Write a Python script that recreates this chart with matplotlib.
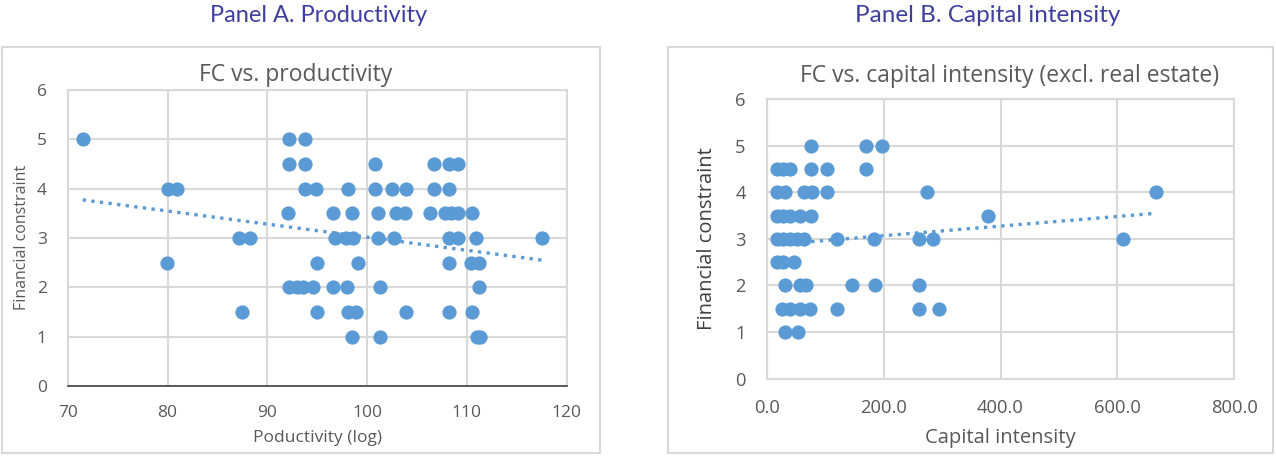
import matplotlib.pyplot as plt
import matplotlib.patches as patches
import numpy as np

# Panel A: financial constraint vs productivity (log)
prod_x = [71.5, 92.2, 93.8,
          92.2, 93.8, 100.8, 106.7, 108.2, 109.1,
          80.0, 81.0, 93.8, 94.9, 98.1, 100.8, 102.5, 103.9, 106.7, 108.2,
          92.1, 96.6, 98.5, 101.1, 102.9, 103.8, 106.3, 107.8, 108.4, 109.1, 110.5,
          87.2, 88.3, 96.8, 97.9, 98.6, 101.1, 102.7, 108.2, 109.1, 110.9, 117.5,
          79.9, 95.0, 99.1, 108.2, 110.4, 111.2,
          92.2, 93.0, 93.6, 94.6, 96.6, 98.0, 101.3, 111.2,
          87.5, 95.0, 98.1, 98.9, 103.9, 108.2, 110.5,
          98.5, 101.3, 111.0, 111.3]
prod_y = [5, 5, 5,
          4.5, 4.5, 4.5, 4.5, 4.5, 4.5,
          4, 4, 4, 4, 4, 4, 4, 4, 4, 4,
          3.5, 3.5, 3.5, 3.5, 3.5, 3.5, 3.5, 3.5, 3.5, 3.5, 3.5,
          3, 3, 3, 3, 3, 3, 3, 3, 3, 3, 3,
          2.5, 2.5, 2.5, 2.5, 2.5, 2.5,
          2, 2, 2, 2, 2, 2, 2, 2,
          1.5, 1.5, 1.5, 1.5, 1.5, 1.5, 1.5,
          1, 1, 1, 1]
# trendline end points
prod_trend_x = [71.5, 117.5]
prod_trend_y = [3.77, 2.55]

# Panel B: financial constraint vs capital intensity
cap_x = [75, 170, 198,
         17, 28, 40, 75, 103, 170,
         17, 31, 63, 77, 103, 274, 666,
         17, 28, 40, 57, 75, 378,
         17, 28, 40, 51, 63, 120, 184, 261, 284, 610,
         17, 28, 46,
         32, 57, 68, 146, 185, 261,
         26, 40, 57, 74, 120, 261, 294,
         31, 54]
cap_y = [5, 5, 5,
         4.5, 4.5, 4.5, 4.5, 4.5, 4.5,
         4, 4, 4, 4, 4, 4, 4,
         3.5, 3.5, 3.5, 3.5, 3.5, 3.5,
         3, 3, 3, 3, 3, 3, 3, 3, 3, 3,
         2.5, 2.5, 2.5,
         2, 2, 2, 2, 2, 2,
         1.5, 1.5, 1.5, 1.5, 1.5, 1.5, 1.5,
         1, 1]
cap_trend_x = [17, 666]
cap_trend_y = [2.88, 3.55]

blue = '#5B9BD5'
grid_c = '#D9D9D9'
tick_c = '#595959'
title_c = '#3F3FA0'

W, H = 1276, 457


def style(ax, dark_bottom):
	ax.grid(True, color=grid_c, lw=1.5, zorder=0)
	ax.set_axisbelow(True)
	for s in ax.spines.values():
		s.set_color(grid_c)
		s.set_linewidth(1.5)
	if dark_bottom:
		ax.spines['bottom'].set_color('#404040')
		ax.spines['bottom'].set_linewidth(1.2)
	ax.tick_params(length=0, colors=tick_c)


fig = plt.figure(figsize=(W / 100, H / 100), dpi=100)
plt.rcParams['font.family'] = ['Open Sans', 'DejaVu Sans']

# chart area borders
fig.patches.append(patches.Rectangle((2 / W, 4 / H), 598 / W, 406 / H, transform=fig.transFigure,
                                     fill=False, edgecolor=grid_c, lw=1.5))
fig.patches.append(patches.Rectangle((668 / W, 4 / H), 605 / W, 406 / H, transform=fig.transFigure,
                                     fill=False, edgecolor=grid_c, lw=1.5))

fig.text(319 / W, 1 - 15 / H, 'Panel A. Productivity', ha='center', va='center', fontsize=17,
         color=title_c, family=['Lato', 'DejaVu Sans'])
fig.text(988 / W, 1 - 15 / H, 'Panel B. Capital intensity', ha='center', va='center', fontsize=17.5,
         color=title_c, family=['Lato', 'DejaVu Sans'])

# Panel A
ax1 = fig.add_axes([67.7 / W, 1 - 386 / H, 499 / W, 296.2 / H])
style(ax1, True)
ax1.scatter(prod_x, prod_y, s=105, color=blue, zorder=3, linewidths=0)
ax1.plot(prod_trend_x, prod_trend_y, linestyle=(0, (1, 1.6)), color=blue, lw=2.4, zorder=2)
ax1.set_xlim(70, 120)
ax1.set_ylim(0, 6)
ax1.set_xticks([70, 80, 90, 100, 110, 120])
ax1.set_yticks([0, 1, 2, 3, 4, 5, 6])
ax1.tick_params(axis='x', labelsize=12.5, pad=14)
ax1.tick_params(axis='y', labelsize=12.5, pad=15)
fig.text(295.5 / W, 1 - 75 / H, 'FC vs. productivity', ha='center', va='center', fontsize=16.5, color=tick_c)
ax1.set_xlabel('Poductivity (log)', fontsize=12.5, color=tick_c, labelpad=6)
ax1.set_ylabel('Financial constraint', fontsize=11.5, color=tick_c, labelpad=5)

# Panel B
ax2 = fig.add_axes([766.7 / W, 1 - 378.5 / H, 467.6 / W, 279.2 / H])
style(ax2, False)
ax2.scatter(cap_x, cap_y, s=105, color=blue, zorder=3, linewidths=0)
ax2.plot(cap_trend_x, cap_trend_y, linestyle=(0, (1, 1.6)), color=blue, lw=2.4, zorder=2)
ax2.set_xlim(0, 800)
ax2.set_ylim(0, 6)
ax2.set_xticks([0, 200, 400, 600, 800])
ax2.set_xticklabels(['0.0', '200.0', '400.0', '600.0', '800.0'])
ax2.set_yticks([0, 1, 2, 3, 4, 5, 6])
ax2.tick_params(axis='x', labelsize=13.2, pad=15)
ax2.tick_params(axis='y', labelsize=13.2, pad=15)
fig.text(1010 / W, 1 - 76 / H, 'FC vs. capital intensity (excl. real estate)', ha='center', va='center',
         fontsize=16.5, color=tick_c)
ax2.set_xlabel('Capital intensity', fontsize=14.5, color=tick_c, labelpad=8)
ax2.set_ylabel('Financial constraint', fontsize=14.5, color='#404040', labelpad=13)

fig.savefig('out.png', dpi=100)
